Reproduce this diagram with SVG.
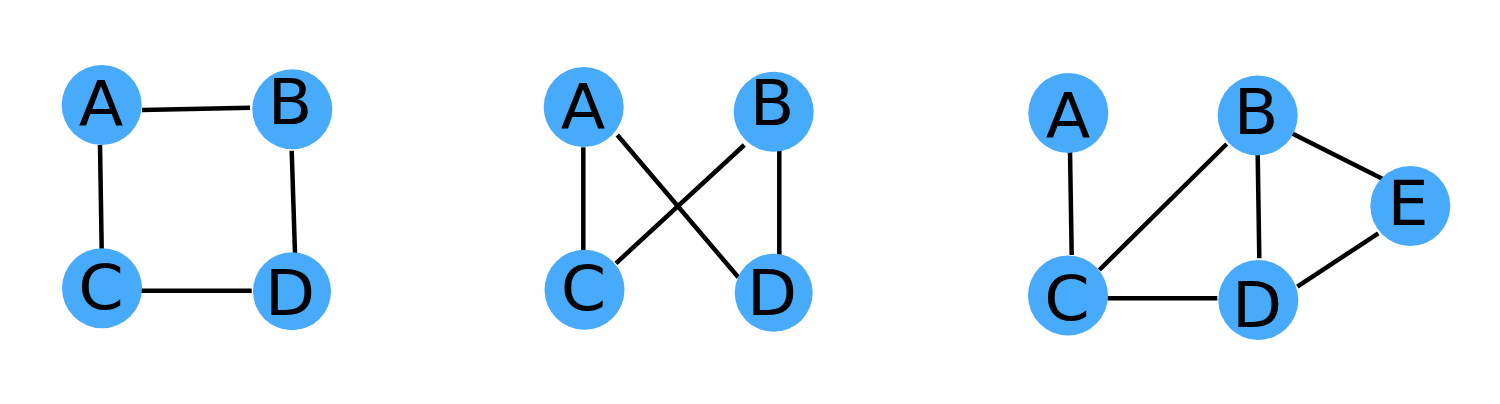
<svg xmlns="http://www.w3.org/2000/svg" width="1500" height="404" viewBox="0 0 1500 404">
<style>
.n{fill:#48aafa}
.t{font-family:"DejaVu Sans",sans-serif;font-size:62px;fill:#000;text-anchor:middle}
.e{stroke:#000;stroke-width:4.5;stroke-linecap:butt;fill:none}
</style>
<rect width="1500" height="404" fill="#fff"/>
<g id="edges">
<line class="e" x1="142" y1="110" x2="250" y2="107.7"/>
<line class="e" x1="100" y1="145" x2="101.7" y2="250"/>
<line class="e" x1="291.7" y1="150.7" x2="295" y2="253.3"/>
<line class="e" x1="139.3" y1="290.7" x2="251.7" y2="290.7"/>
<line class="e" x1="583.3" y1="147.3" x2="583.3" y2="250.7"/>
<line class="e" x1="617.3" y1="135" x2="738.3" y2="277.3"/>
<line class="e" x1="744.3" y1="145" x2="616" y2="263.3"/>
<line class="e" x1="779.3" y1="150" x2="779.3" y2="255"/>
<line class="e" x1="1070" y1="150.7" x2="1071.7" y2="255"/>
<line class="e" x1="1226.7" y1="144" x2="1099.3" y2="270"/>
<line class="e" x1="1257.7" y1="155" x2="1259.3" y2="258.3"/>
<line class="e" x1="1291.7" y1="133.3" x2="1383.3" y2="179.3"/>
<line class="e" x1="1107.3" y1="298.3" x2="1217.3" y2="298.3"/>
<line class="e" x1="1297.3" y1="286.7" x2="1378.3" y2="233.3"/>
</g>
<g id="g1-A"><circle class="n" cx="101.7" cy="105" r="40"/><text class="t" transform="translate(101,125.7) scale(1.05,1)">A</text></g>
<g id="g1-B"><circle class="n" cx="292.3" cy="109.3" r="40"/><text class="t" transform="translate(290,124) scale(1.05,1)">B</text></g>
<g id="g1-C"><circle class="n" cx="102" cy="288.3" r="40"/><text class="t" transform="translate(101,309) scale(1.05,1)">C</text></g>
<g id="g1-D"><circle class="n" cx="292" cy="291.3" r="39"/><text class="t" transform="translate(290,315) scale(1.05,1)">D</text></g>
<g id="g2-A"><circle class="n" cx="583.7" cy="107" r="40"/><text class="t" transform="translate(583,129.3) scale(1.05,1)">A</text></g>
<g id="g2-B"><circle class="n" cx="773.7" cy="111.7" r="40"/><text class="t" transform="translate(772,125) scale(1.05,1)">B</text></g>
<g id="g2-C"><circle class="n" cx="584.5" cy="289.7" r="40"/><text class="t" transform="translate(583.5,310) scale(1.05,1)">C</text></g>
<g id="g2-D"><circle class="n" cx="773.7" cy="292.8" r="39"/><text class="t" transform="translate(772,315) scale(1.05,1)">D</text></g>
<g id="g3-A"><circle class="n" cx="1068.3" cy="113" r="40"/><text class="t" transform="translate(1068,137.7) scale(1.05,1)">A</text></g>
<g id="g3-B"><circle class="n" cx="1257.7" cy="115.5" r="40"/><text class="t" transform="translate(1256,134.3) scale(1.05,1)">B</text></g>
<g id="g3-C"><circle class="n" cx="1068" cy="295.5" r="40"/><text class="t" transform="translate(1067,319.5) scale(1.05,1)">C</text></g>
<g id="g3-D"><circle class="n" cx="1258.3" cy="300" r="40"/><text class="t" transform="translate(1257,326.7) scale(1.05,1)">D</text></g>
<g id="g3-E"><circle class="n" cx="1410.3" cy="206" r="40"/><text class="t" transform="translate(1408,225) scale(1.05,1)">E</text></g>
</svg>
